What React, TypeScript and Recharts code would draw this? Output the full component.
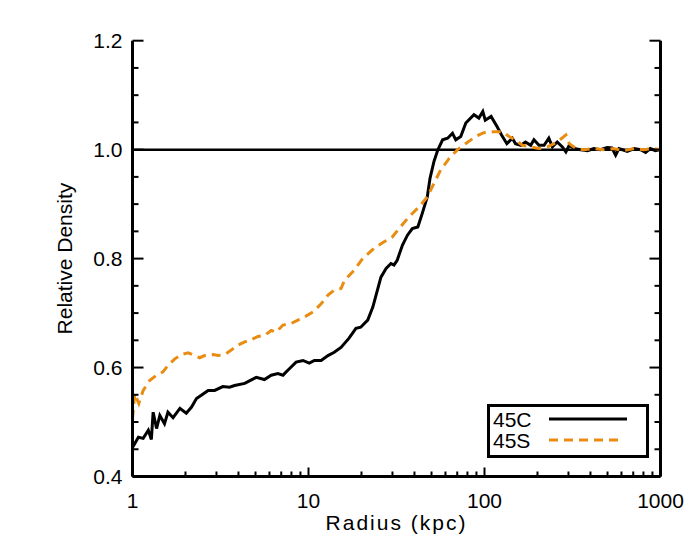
import { LineChart, Line, XAxis, YAxis, ReferenceLine, Legend, Label } from 'recharts';

// 45C run: radius (kpc) and relative density
const c45Radius = [
  1.0, 1.08, 1.15, 1.23, 1.28, 1.31, 1.37, 1.43, 1.52, 1.59,
  1.7, 1.86, 2.02, 2.16, 2.31, 2.46, 2.69, 2.93, 3.26, 3.56,
  3.8, 4.34, 5.05, 5.62, 6.14, 6.7, 7.16, 7.63, 8.5, 9.3,
  10.1, 10.8, 11.8, 12.9, 14.0, 15.3, 17.0, 18.6, 19.8, 21.7,
  23.2, 25.8, 27.6, 29.4, 30.6, 31.9, 34.2, 36.5, 38.9, 41.8,
  44.3, 47.3, 49.0, 51.6, 54.2, 57.8, 61.7, 65.8, 68.7, 73.3,
  78.3, 87.1, 92.9, 97.8, 101, 109, 118, 125, 134, 144,
  150, 161, 171, 183, 191, 204, 218, 232, 243, 259,
  277, 290, 303, 323, 352, 385, 418, 455, 498, 530,
  556, 580, 647, 708, 771, 823, 875, 936, 1000,
];
const c45Density = [
  0.453, 0.472, 0.470, 0.485, 0.468, 0.518, 0.488, 0.512, 0.497, 0.518,
  0.508, 0.525, 0.516, 0.527, 0.543, 0.549, 0.558, 0.558, 0.565, 0.564,
  0.567, 0.571, 0.582, 0.578, 0.586, 0.589, 0.586, 0.595, 0.610, 0.613,
  0.608, 0.613, 0.613, 0.622, 0.628, 0.637, 0.654, 0.672, 0.674, 0.687,
  0.711, 0.766, 0.782, 0.791, 0.788, 0.797, 0.825, 0.843, 0.855, 0.858,
  0.883, 0.913, 0.947, 0.978, 0.999, 1.018, 1.021, 1.030, 1.018, 1.024,
  1.049, 1.064, 1.058, 1.070, 1.054, 1.061, 1.042, 1.027, 1.011, 1.021,
  1.011, 1.008, 1.014, 1.008, 1.018, 1.008, 1.008, 1.021, 1.005, 1.014,
  1.005, 0.996, 1.008, 1.002, 1.0, 0.998, 1.002, 1.0, 1.004, 1.003,
  0.990, 1.002, 0.997, 1.002, 1.0, 0.995, 1.002, 0.998, 1.0,
];

// 45S run
const s45Radius = [
  1.0, 1.03, 1.086, 1.15, 1.25, 1.37, 1.49, 1.59, 1.74, 1.9,
  2.07, 2.26, 2.41, 2.57, 2.87, 3.06, 3.34, 3.64, 3.97, 4.34,
  4.73, 5.16, 5.63, 6.14, 6.55, 7.16, 7.98, 8.7, 9.5, 10.6,
  11.8, 12.9, 14.0, 15.3, 16.0, 18.2, 20.3, 23.6, 26.9, 30.0,
  32.7, 37.3, 42.5, 47.3, 51.6, 56.4, 63, 70.3, 78, 89,
  99, 113, 126, 138, 150, 164, 183, 204, 228, 259,
  290, 303, 331, 368, 418, 475, 541, 615, 708, 800,
  908, 1000,
];
const s45Density = [
  0.506, 0.552, 0.534, 0.558, 0.576, 0.586, 0.592, 0.604, 0.616, 0.624,
  0.627, 0.622, 0.618, 0.622, 0.624, 0.622, 0.624, 0.632, 0.641, 0.647,
  0.651, 0.657, 0.659, 0.668, 0.665, 0.678, 0.681, 0.687, 0.693, 0.702,
  0.717, 0.733, 0.742, 0.745, 0.760, 0.779, 0.800, 0.819, 0.831, 0.840,
  0.855, 0.877, 0.895, 0.913, 0.938, 0.963, 0.984, 1.0, 1.011, 1.024,
  1.031, 1.033, 1.033, 1.024, 1.018, 1.008, 1.005, 1.002, 1.005, 1.014,
  1.027, 1.011, 1.002, 1.0, 1.002, 1.0, 1.002, 0.998, 1.002, 1.0,
  1.002, 1.0,
];

const xMajor = [1, 10, 100, 1000];
const yMajor = [0.4, 0.6, 0.8, 1.0, 1.2];

const xTicks: number[] = [];
[1, 10, 100].forEach((d) => {
  for (let m = 1; m <= 9; m++) xTicks.push(m * d);
});
xTicks.push(1000);
const yTicks = Array.from({ length: 17 }, (_, i) => +(0.4 + i * 0.05).toFixed(2));

const c45 = c45Radius.map((r, i) => ({ r, v: c45Density[i] }));
const s45 = s45Radius.map((r, i) => ({ r, v: s45Density[i] }));

const FONT = '"Liberation Sans", Arial, sans-serif';
const ORANGE = '#e98c12';

const isYMajor = (v: number) => yMajor.some((m) => Math.abs(m - v) < 1e-6);

function BottomTick({ x, y, payload }: any) {
  const major = xMajor.includes(payload.value);
  return (
    <g>
      <line x1={x} x2={x} y1={y} y2={y - (major ? 9 : 5)} stroke="#000" strokeWidth={2} />
      {major && (
        <text x={x} y={y + 31} textAnchor="middle" fontSize={21} fontFamily={FONT} fill="#000">
          {payload.value}
        </text>
      )}
    </g>
  );
}

function TopTick({ x, y, payload }: any) {
  const major = xMajor.includes(payload.value);
  return <line x1={x} x2={x} y1={y} y2={y + (major ? 9 : 5)} stroke="#000" strokeWidth={2} />;
}

function LeftTick({ x, y, payload }: any) {
  const major = isYMajor(payload.value);
  return (
    <g>
      <line x1={x} x2={x + (major ? 11 : 6)} y1={y} y2={y} stroke="#000" strokeWidth={2} />
      {major && (
        <text x={x - 10} y={y + 7.5} textAnchor="end" fontSize={21} fontFamily={FONT} fill="#000">
          {payload.value.toFixed(1)}
        </text>
      )}
    </g>
  );
}

function RightTick({ x, y, payload }: any) {
  const major = isYMajor(payload.value);
  return <line x1={x} x2={x - (major ? 11 : 6)} y1={y} y2={y} stroke="#000" strokeWidth={2} />;
}

function LegendBox({ payload }: any) {
  return (
    <svg width={162} height={54} style={{ display: 'block' }}>
      <rect x={1.5} y={1.5} width={159} height={51} fill="#fff" stroke="#000" strokeWidth={3} />
      {(payload || []).map((entry: any, i: number) => {
        const cy = 15 + i * 21;
        const dashed = !!entry.payload?.strokeDasharray;
        return (
          <g key={entry.value}>
            <text x={6} y={cy + 7.5} fontSize={21} fontFamily={FONT} fill="#000">
              {entry.value}
            </text>
            <line
              x1={62}
              x2={dashed ? 133 : 140}
              y1={cy}
              y2={cy}
              stroke={entry.color}
              strokeWidth={3}
              strokeDasharray={dashed ? '9 6' : undefined}
            />
          </g>
        );
      })}
    </svg>
  );
}

export default function App() {
  return (
    <LineChart width={684} height={540} margin={{ top: 32.7, right: 0, bottom: 0, left: 0 }}>
      <XAxis
        dataKey="r"
        type="number"
        scale="log"
        domain={[1, 1000]}
        allowDataOverflow
        ticks={xTicks}
        interval={0}
        tickSize={0}
        tickMargin={0}
        tick={<BottomTick />}
        tickLine={false}
        axisLine={{ stroke: '#000', strokeWidth: 3 }}
        height={71.5}
      >
        <Label
          value="Radius (kpc)"
          position="insideBottom"
          offset={18}
          style={{ fontSize: 21, fontFamily: FONT, fill: '#000', letterSpacing: 2 }}
        />
      </XAxis>
      <XAxis
        xAxisId="top"
        orientation="top"
        type="number"
        scale="log"
        domain={[1, 1000]}
        allowDataOverflow
        ticks={xTicks}
        interval={0}
        tickSize={0}
        tickMargin={0}
        tick={<TopTick />}
        tickLine={false}
        axisLine={{ stroke: '#000', strokeWidth: 3 }}
        height={0}
      />
      <YAxis
        type="number"
        domain={[0.4, 1.2]}
        allowDataOverflow
        ticks={yTicks}
        interval={0}
        tickSize={0}
        tickMargin={0}
        tick={<LeftTick />}
        tickLine={false}
        axisLine={{ stroke: '#000', strokeWidth: 3 }}
        width={124.5}
      >
        <Label
          value="Relative Density"
          angle={-90}
          position="insideLeft"
          offset={57}
          style={{ fontSize: 21, fontFamily: FONT, fill: '#000', textAnchor: 'middle' }}
        />
      </YAxis>
      <YAxis
        yAxisId="right"
        orientation="right"
        type="number"
        domain={[0.4, 1.2]}
        allowDataOverflow
        ticks={yTicks}
        interval={0}
        tickSize={0}
        tickMargin={0}
        tick={<RightTick />}
        tickLine={false}
        axisLine={{ stroke: '#000', strokeWidth: 3 }}
        width={31.5}
      />
      <ReferenceLine y={1} stroke="#000" strokeWidth={2.5} />
      <Line
        data={c45}
        dataKey="v"
        name="45C"
        type="linear"
        stroke="#000"
        strokeWidth={3}
        dot={false}
        activeDot={false}
        isAnimationActive={false}
      />
      <Line
        data={s45}
        dataKey="v"
        name="45S"
        type="linear"
        stroke={ORANGE}
        strokeWidth={3}
        strokeDasharray="9 6"
        dot={false}
        activeDot={false}
        isAnimationActive={false}
      />
      <Legend
        layout="vertical"
        align="center"
        verticalAlign="middle"
        wrapperStyle={{ left: 479, top: 396, width: 162, height: 54 }}
        content={<LegendBox />}
      />
    </LineChart>
  );
}
